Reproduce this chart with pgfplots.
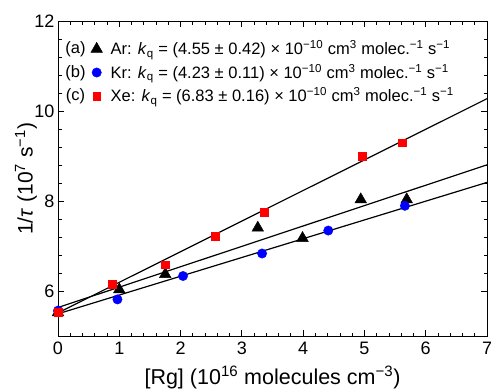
\documentclass[border=0pt]{standalone}
\usepackage{fontspec}
\setmainfont{Liberation Sans}
\usepackage{pgfplots}
\pgfplotsset{compat=1.18}
\definecolor{myred}{RGB}{255,0,0}
\definecolor{myblue}{RGB}{0,0,255}
\begin{document}
\begin{tikzpicture}
\begin{axis}[
  scale only axis, width=429pt, height=315pt,
  xmin=0, xmax=7, ymin=5, ymax=12,
  xtick={0,1,...,7}, ytick={6,8,10,12},
  minor x tick num=4, minor y tick num=4,
  tick align=inside,
  major tick length=6pt, minor tick length=3.5pt,
  every tick/.style={black, line width=0.8pt},
  axis line style={line width=1pt},
  ticklabel style={font=\fontsize{18}{20}\selectfont},
  xticklabel style={yshift=-2pt},
  /pgf/number format/assume math mode=true,
  xlabel={[Rg] (10\textsuperscript{16} molecules cm\textsuperscript{−3})},
  ylabel={1/\textit{τ} (10\textsuperscript{7} s\textsuperscript{−1})},
  every axis x label/.style={at={(rel axis cs:0.5,0)}, anchor=base, yshift=-48pt, font=\fontsize{21.5}{23}\selectfont},
  every axis y label/.style={at={(rel axis cs:-0.0746,0.5)}, rotate=90, anchor=center, font=\fontsize{21}{23}\selectfont},
  legend style={at={(rel axis cs:0.0762,0.9333)}, anchor=north west, draw=none, fill=none,
    font=\fontsize{16.5}{18}\selectfont, row sep=7.5pt, inner sep=0pt, outer sep=0pt,
    nodes={inner sep=0pt, text height=12pt, text depth=4pt}},
  legend cell align=left,
  legend image code/.code={\path[draw=none,fill=none] (-6pt,0pt) -- (14pt,0pt); \draw[#1] plot coordinates {(0pt,1.9pt)};},
]
\coordinate (SW) at (rel axis cs:0,0);
\coordinate (NE) at (rel axis cs:1,1);
\addplot[only marks, mark=triangle*, mark size=6.7pt, black] coordinates {
(0,5.53)(1.0,6.04)(1.75,6.38)(3.26,7.41)(3.99,7.18)(4.94,8.04)(5.69,8.04)};
\addlegendentry{{Ar: \textit{k}\textsubscript{q} = (4.55 ± 0.42) × 10\textsuperscript{−10} cm\textsuperscript{3} molec.\textsuperscript{−1} s\textsuperscript{−1}}}
\addplot[only marks, mark=*, mark size=4.7pt, myblue, mark options={draw=myblue, fill=myblue}] coordinates {
(0,5.57)(0.97,5.82)(2.04,6.34)(3.33,6.84)(4.41,7.35)(5.66,7.90)};
\addlegendentry{{Kr: \textit{k}\textsubscript{q} = (4.23 ± 0.11) × 10\textsuperscript{−10} cm\textsuperscript{3} molec.\textsuperscript{−1} s\textsuperscript{−1}}}
\addplot[only marks, mark=square*, mark size=3.9pt, myred, mark options={draw=myred, fill=myred}] coordinates {
(0,5.54)(0.89,6.16)(1.75,6.59)(2.57,7.23)(3.36,7.76)(4.96,9.01)(5.62,9.30)};
\addlegendentry{{Xe: \textit{k}\textsubscript{q} = (6.83 ± 0.16) × 10\textsuperscript{−10} cm\textsuperscript{3} molec.\textsuperscript{−1} s\textsuperscript{−1}}}
\addplot[black, line width=1.2pt, forget plot] coordinates {(0,5.64)(7,8.81)};
\addplot[black, line width=1.2pt, forget plot] coordinates {(0,5.50)(7,8.42)};
\addplot[black, line width=1.2pt, forget plot] coordinates {(0,5.52)(7,10.28)};
\node[font=\fontsize{16.5}{18}\selectfont, anchor=base, inner sep=0pt] at (rel axis cs:0.0408,0.8968) {(a)};
\node[font=\fontsize{16.5}{18}\selectfont, anchor=base, inner sep=0pt] at (rel axis cs:0.0408,0.8222) {(b)};
\node[font=\fontsize{16.5}{18}\selectfont, anchor=base, inner sep=0pt] at (rel axis cs:0.0408,0.7476) {(c)};
\end{axis}
\pgfresetboundingbox
\path ([shift={(-58pt,-54pt)}]SW) rectangle ([shift={(4pt,21.3pt)}]NE);
\end{tikzpicture}
\end{document}
